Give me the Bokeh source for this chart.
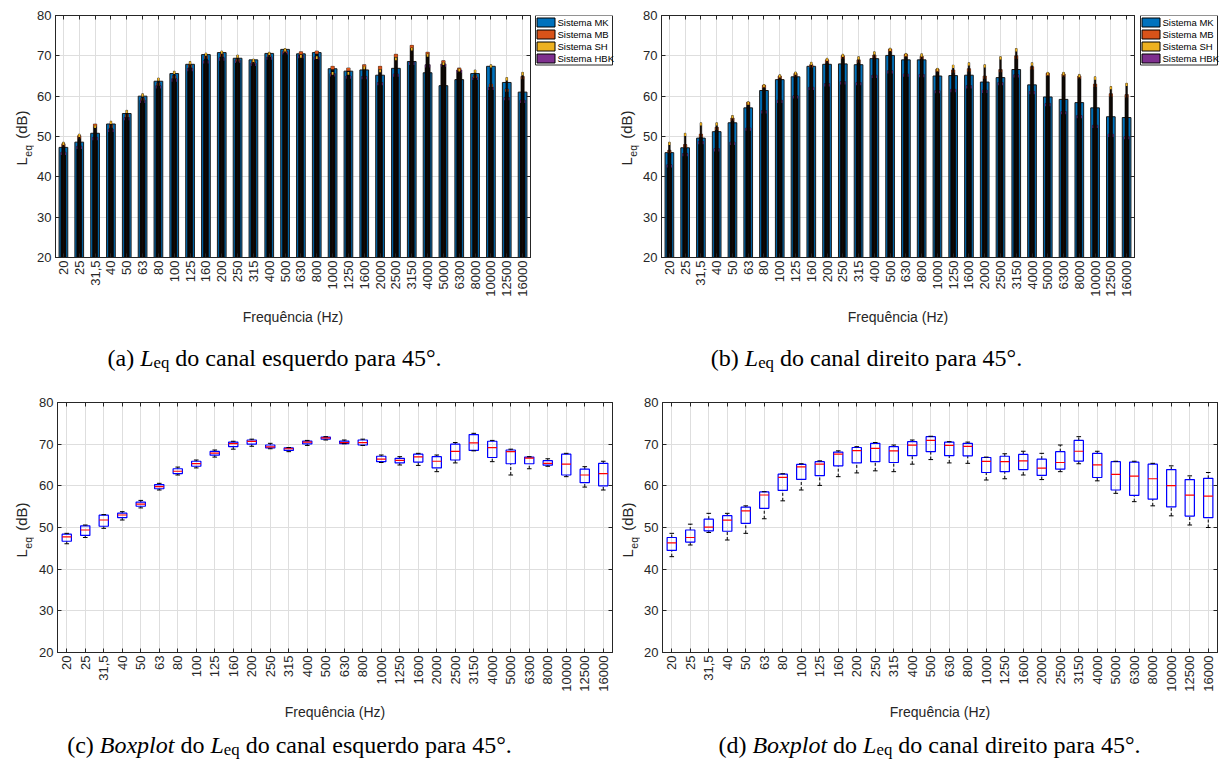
import math
from bokeh.plotting import figure
from bokeh.models import ColumnDataSource, FixedTicker, LinearAxis, Range1d
from bokeh.core.properties import value
from bokeh.layouts import column, row
from bokeh.transform import dodge
from bokeh.embed import file_html
from bokeh.resources import INLINE

# ---------------------------------------------------------------- data
FREQ_LABELS = ["20", "25", "31,5", "40", "50", "63", "80", "100", "125", "160",
               "200", "250", "315", "400", "500", "630", "800", "1000", "1250", "1600",
               "2000", "2500", "3150", "4000", "5000", "6300", "8000", "10000", "12500", "16000"]
SERIES_NAMES = ["Sistema MK", "Sistema MB", "Sistema SH", "Sistema HBK"]
Y_TICKS = [20, 30, 40, 50, 60, 70, 80]

# Left channel (canal esquerdo), Leq in dB
ESQ_MK = [47.3, 48.6, 50.8, 53.1, 55.7, 60.0, 63.7, 65.6, 67.9, 70.3,
          70.8, 69.4, 69.0, 70.6, 71.6, 70.5, 70.8, 66.8, 66.2, 66.5,
          65.2, 66.9, 68.6, 65.8, 62.6, 64.1, 65.6, 67.4, 63.4, 61.0]
ESQ_MB = [48.2, 50.2, 53.1, 52.9, 55.5, 59.6, 63.3, 65.1, 67.8, 70.0,
          70.5, 69.3, 68.8, 70.4, 71.4, 71.0, 71.2, 67.4, 67.0, 67.8,
          67.4, 70.4, 72.6, 70.9, 68.8, 67.0, 65.2, 63.0, 61.8, 64.9]
ESQ_SH = [48.6, 50.6, 52.8, 53.8, 56.5, 60.6, 64.5, 66.2, 68.6, 70.7,
          71.2, 70.2, 69.2, 70.9, 71.8, 70.2, 69.9, 66.0, 66.0, 67.4,
          66.6, 69.6, 72.0, 70.5, 68.4, 66.8, 66.5, 67.8, 64.6, 65.9]
ESQ_HBK = [46.1, 47.6, 49.8, 51.8, 54.7, 59.0, 62.6, 64.3, 66.9, 68.8,
           69.5, 68.9, 68.2, 69.7, 71.0, 70.1, 69.7, 65.6, 65.0, 64.9,
           63.4, 65.5, 68.4, 67.8, 68.0, 66.5, 64.7, 62.2, 59.7, 59.0]

# Right channel (canal direito), Leq in dB
DIR_MK = [46.0, 47.2, 49.6, 51.2, 53.4, 57.1, 61.4, 64.1, 64.8, 67.4,
          67.9, 68.0, 67.8, 69.3, 70.1, 69.0, 69.0, 65.0, 65.1, 65.2,
          63.5, 64.6, 66.6, 62.8, 59.8, 59.2, 58.4, 57.1, 54.9, 54.7]
DIR_MB = [46.6, 48.0, 50.6, 52.3, 54.6, 58.5, 62.7, 65.0, 65.6, 67.8,
          69.0, 70.0, 69.0, 70.2, 71.7, 70.4, 69.9, 66.7, 66.5, 66.8,
          65.0, 66.6, 70.0, 67.3, 65.7, 65.5, 65.0, 63.0, 60.6, 60.4]
DIR_SH = [48.6, 50.8, 53.4, 53.4, 55.2, 58.6, 62.9, 65.3, 66.0, 68.4,
          69.4, 70.4, 69.8, 71.0, 71.9, 70.6, 70.5, 66.9, 67.7, 68.3,
          67.8, 69.8, 71.8, 68.3, 65.9, 65.9, 65.4, 64.8, 62.4, 63.2]
DIR_HBK = [43.0, 45.8, 48.8, 47.0, 48.6, 52.1, 56.4, 59.0, 60.1, 62.2,
           63.1, 63.6, 63.4, 65.2, 66.3, 65.5, 65.4, 61.4, 61.7, 62.6,
           61.5, 63.4, 65.3, 61.2, 58.2, 56.2, 55.2, 52.8, 50.6, 50.0]

X = list(range(1, len(FREQ_LABELS) + 1))

# ---------------------------------------------------------------- style
AX = "#262626"
GRID = "#dedede"
COLORS = ["#0072BD", "#D95319", "#EDB120", "#7E2F8E"]
C_MK, C_MB, C_SH, C_HBK = COLORS
CORE = "#140c07"
TIP = 0.7
SANS = "Liberation Sans"
SERIF = "Liberation Serif"
CAP_SIZE = 24.0

TIMES_R = {' ': 250, '(': 333, ')': 333, 'a': 444, 'b': 500, 'c': 444, 'd': 500, 'e': 444,
           'i': 278, 'l': 278, 'n': 500, 'o': 500, 'p': 500, 'q': 500, 'r': 333, 's': 389,
           't': 278, 'u': 500, 'x': 500, '4': 500, '5': 500, '°': 400, '.': 250}
TIMES_I = {'L': 556, 'B': 611, 'o': 500, 'x': 444, 'p': 500, 'l': 278, 't': 278}
ARIAL = {'L': 556, 'e': 556, 'q': 556, ' ': 278}


def blank_fig(width, height, y_range=None, bt=0, bb=0):
    """Axis-less helper canvas; x in page pixels (relative), y range given explicitly."""
    yr = y_range if y_range is not None else Range1d(0, height)
    p = figure(width=width, height=height, x_range=Range1d(0, width), y_range=yr,
               output_backend="svg", toolbar_location=None, title=None,
               x_axis_type=None, y_axis_type=None,
               min_border_left=0, min_border_right=0, min_border_top=bt, min_border_bottom=bb,
               background_fill_color="white", border_fill_color="white")
    p.outline_line_color = None
    p.grid.visible = False
    return p


def make_fig(width, height, bl, br, bt, bb):
    p = figure(width=width, height=height, x_range=Range1d(0.5, 30.5), y_range=Range1d(20, 80),
               output_backend="svg", toolbar_location=None, title=None,
               min_border_left=bl, min_border_right=br, min_border_top=bt, min_border_bottom=bb,
               background_fill_color="white", border_fill_color="white")
    p.outline_line_color = AX
    p.outline_line_width = 1
    bx = p.below[0]
    ly = p.left[0]
    bx.ticker = FixedTicker(ticks=X)
    ly.ticker = FixedTicker(ticks=Y_TICKS)
    bx.major_label_overrides = {x: lab for x, lab in zip(X, FREQ_LABELS)}
    bx.major_label_orientation = math.pi / 2
    for ax in (bx, ly):
        ax.major_tick_in = 4
        ax.major_tick_out = 0
        ax.minor_tick_in = 0
        ax.minor_tick_out = 0
        ax.axis_line_color = AX
        ax.major_tick_line_color = AX
        ax.major_label_text_font = SANS
        ax.major_label_text_font_size = "13px"
        ax.major_label_text_color = AX
    bx.major_label_standoff = 3
    ly.major_label_standoff = 4
    bx.axis_label = "Frequência (Hz)"
    bx.axis_label_text_font = SANS
    bx.axis_label_text_font_size = "14px"
    bx.axis_label_text_font_style = "normal"
    bx.axis_label_text_color = AX
    bx.axis_label_standoff = 9
    for side, ticks in (("above", X), ("right", Y_TICKS)):
        ax = LinearAxis(ticker=FixedTicker(ticks=ticks), major_label_text_font_size="1px",
                        major_label_text_color=None, major_label_standoff=0,
                        major_tick_in=4, major_tick_out=0, minor_tick_in=0, minor_tick_out=0,
                        axis_line_color=AX, major_tick_line_color=AX)
        p.add_layout(ax, side)
    p.xgrid.ticker = FixedTicker(ticks=X)
    p.ygrid.ticker = FixedTicker(ticks=Y_TICKS)
    for g in (p.xgrid, p.ygrid):
        g.grid_line_color = GRID
        g.grid_line_width = 1
    return p


def ylabel_fig(width, height, frame_top, frame_bot, bt, bb, xb, y_bottom):
    """Rotated 'L_eq (dB)' label. y data = -page y; xb = baseline x; y_bottom = page y of text start."""
    p = blank_fig(width, height, Range1d(-frame_bot, -frame_top), bt, bb)
    fs, fsub = 15.0, 10.5
    wl = ARIAL['L'] / 1000 * fs
    we = (ARIAL['e'] + ARIAL['q']) / 1000 * fsub
    ws = ARIAL[' '] / 1000 * fs
    y0 = -y_bottom
    parts = [("L", fs, xb, y0), ("eq", fsub, xb + 6.5, y0 + wl + 0.5),
             ("(dB)", fs, xb, y0 + wl + we + 1.6 * ws)]
    for text, size, px, py in parts:
        p.text(x=[px], y=[py], text=[text], angle=math.pi / 2,
               text_font=value(SANS), text_font_size=value(f"{size}px"), text_color=AX,
               text_align="left", text_baseline="alphabetic")
    return p


def legend_fig(width, height, frame_top, frame_bot, bt, bb, left, top, box_w=77):
    """Legend box drawn by hand: swatches + labels (y data = -page y)."""
    p = blank_fig(width, height, Range1d(-frame_bot, -frame_top), bt, bb)
    pitch, gw, gh, fs = 12.0, 18.0, 9.0, 9.5
    n = len(SERIES_NAMES)
    ytop = -top
    p.quad(left=[left], right=[left + box_w], top=[ytop], bottom=[ytop - n * pitch - 1.5],
           fill_color="white", line_color=AX, line_width=1)
    cy = [ytop - 1 - pitch / 2 - i * pitch for i in range(n)]
    p.rect(x=[left + 1.5 + gw / 2] * n, y=cy, width=gw, height=gh,
           fill_color=COLORS, line_color="black", line_width=1)
    p.text(x=[left + 2 + gw + 2] * n, y=cy, text=SERIES_NAMES, text_font=value(SANS),
           text_font_size=value(f"{fs}px"), text_color="black",
           text_align="left", text_baseline="middle")
    return p


def tw(text, table, size):
    return sum(table.get(c, 500) for c in text) / 1000.0 * size


def piece_width(text, st, size):
    if st == "gap":
        return tw(text, TIMES_R, size)
    if st == "sub":
        return tw(text, TIMES_R, size * 0.7)
    if st == "i":
        return tw(text, TIMES_I, size)
    return tw(text, TIMES_R, size)


def caption_fig(width, height, xc, base_from_top, parts, size=CAP_SIZE):
    p = blank_fig(width, height)
    total = sum(piece_width(t, s, size) for t, s in parts)
    x = xc - total / 2.0
    yb = height - base_from_top
    for text, st in parts:
        w = piece_width(text, st, size)
        if st == "gap":
            x += w
            continue
        if st == "sub":
            fs, py, style = size * 0.7, yb - size * 0.2, "normal"
        elif st == "i":
            fs, py, style = size, yb, "italic"
        else:
            fs, py, style = size, yb, "normal"
        p.text(x=[x], y=[py], text=[text], text_font=value(SERIF),
               text_font_size=value(f"{fs:.1f}px"), text_font_style=style,
               text_color="black", text_align="left", text_baseline="alphabetic")
        x += w
    return p


def bar_panel(p, mk, mb, sh, hbk):
    src = ColumnDataSource(dict(
        x=X, mk=mk, mb=mb, sh=sh, hbk=hbk,
        mb_tip=[v - TIP for v in mb], sh_tip=[v - TIP for v in sh], hbk_tip=[v - TIP for v in hbk]))
    p.vbar(x="x", top="mk", bottom=0, width=0.55, source=src, fill_color=C_MK,
           line_color="#1a1a1a", line_width=1)
    for key, w, col in (("hbk", 0.33, C_HBK), ("mb", 0.21, C_MB), ("sh", 0.11, C_SH)):
        p.vbar(x="x", top=key, bottom=0, width=w, source=src, fill_color=CORE,
               line_color="black", line_width=0.5)
        p.vbar(x="x", top=key, bottom=key + "_tip", width=w, source=src, fill_color=col,
               line_color=None)


def mprctile(s, q):
    n = len(s)
    pos = n * q / 100.0 + 0.5
    if pos <= 1:
        return s[0]
    if pos >= n:
        return s[-1]
    lo = int(math.floor(pos))
    f = pos - lo
    return s[lo - 1] + f * (s[lo] - s[lo - 1])


def box_panel(p, mk, mb, sh, hbk):
    q1s, meds, q3s, los, his = [], [], [], [], []
    for vals in zip(mk, mb, sh, hbk):
        s = sorted(vals)
        q1, md, q3 = mprctile(s, 25), mprctile(s, 50), mprctile(s, 75)
        iqr = q3 - q1
        inside = [v for v in s if q1 - 1.5 * iqr <= v <= q3 + 1.5 * iqr]
        q1s.append(q1); meds.append(md); q3s.append(q3)
        los.append(min(inside)); his.append(max(inside))
    src = ColumnDataSource(dict(x=X, q1=q1s, med=meds, q3=q3s, lo=los, hi=his))
    p.segment(x0="x", y0="q3", x1="x", y1="hi", source=src, line_color="black",
              line_width=1, line_dash="3 2")
    p.segment(x0="x", y0="lo", x1="x", y1="q1", source=src, line_color="black",
              line_width=1, line_dash="3 2")
    p.vbar(x="x", top="q3", bottom="q1", width=0.5, source=src, fill_color=None,
           line_color="#0000FF", line_width=1.2)
    p.segment(x0=dodge("x", -0.25), y0="med", x1=dodge("x", 0.25), y1="med", source=src,
              line_color="#FF0000", line_width=1.2)
    for col in ("hi", "lo"):
        p.segment(x0=dodge("x", -0.125), y0=col, x1=dodge("x", 0.125), y1=col, source=src,
                  line_color="black", line_width=1)


# ---------------------------------------------------------------- panels (page origin 0,0)
TOP_H, TOP_CAP = 338, 50
BOT_H, BOT_CAP = 335, 42
# top row frame: page y 15..257 ; bottom row frame: page y 402..652
T_BT, T_BB = 15, TOP_H - 15 - 242
B_BT, B_BB = 14, BOT_H - 14 - 250

# (a) left channel bars: page x 0..615
pa = make_fig(498, TOP_H, 21, 2, T_BT, T_BB)
bar_panel(pa, ESQ_MK, ESQ_MB, ESQ_SH, ESQ_HBK)
ya = ylabel_fig(34, TOP_H, 15, 257, T_BT, T_BB, 21, 165)
la = legend_fig(83, TOP_H, 15, 257, T_BT, T_BB, 3, 15)
ca = caption_fig(615, TOP_CAP, 274, 19, [("(a)", "r"), (" ", "gap"), ("L", "i"), ("eq", "sub"),
                                         (" ", "gap"), ("do canal esquerdo para 45°.", "r")])

# (b) right channel bars: page x 615..1225
pb = make_fig(496, TOP_H, 20, 2, T_BT, T_BB)
bar_panel(pb, DIR_MK, DIR_MB, DIR_SH, DIR_HBK)
yb = ylabel_fig(25, TOP_H, 15, 257, T_BT, T_BB, 11, 165)
lb = legend_fig(89, TOP_H, 15, 257, T_BT, T_BB, 4, 15)
cb = caption_fig(610, TOP_CAP, 866 - 615, 19, [("(b)", "r"), (" ", "gap"), ("L", "i"), ("eq", "sub"),
                                               (" ", "gap"), ("do canal direito para 45°.", "r")])

# (c) left channel boxplot
pc = make_fig(581, BOT_H, 23, 3, B_BT, B_BB)
box_panel(pc, ESQ_MK, ESQ_MB, ESQ_SH, ESQ_HBK)
yc = ylabel_fig(34, BOT_H, 402, 652, B_BT, B_BB, 21, 557)
cc = caption_fig(615, BOT_CAP, 289, 21, [("(c)", "r"), (" ", "gap"), ("Boxplot", "i"), (" ", "gap"),
                                         ("do", "r"), (" ", "gap"), ("L", "i"), ("eq", "sub"),
                                         (" ", "gap"), ("do canal esquerdo para 45°.", "r")])

# (d) right channel boxplot
pd = make_fig(585, BOT_H, 22, 8, B_BT, B_BB)
box_panel(pd, DIR_MK, DIR_MB, DIR_SH, DIR_HBK)
yd = ylabel_fig(25, BOT_H, 402, 652, B_BT, B_BB, 12, 557)
cd = caption_fig(610, BOT_CAP, 929 - 615, 21, [("(d)", "r"), (" ", "gap"), ("Boxplot", "i"), (" ", "gap"),
                                               ("do", "r"), (" ", "gap"), ("L", "i"), ("eq", "sub"),
                                               (" ", "gap"), ("do canal direito para 45°.", "r")])

top_row = row(column(row(ya, pa, la, spacing=0), ca, spacing=0),
              column(row(yb, pb, lb, spacing=0), cb, spacing=0), spacing=0)
bot_row = row(column(row(yc, pc, spacing=0), cc, spacing=0),
              column(row(yd, pd, spacing=0), cd, spacing=0), spacing=0)
layout = column(top_row, bot_row, spacing=0)
open("out.html", "w").write(file_html(layout, INLINE))
